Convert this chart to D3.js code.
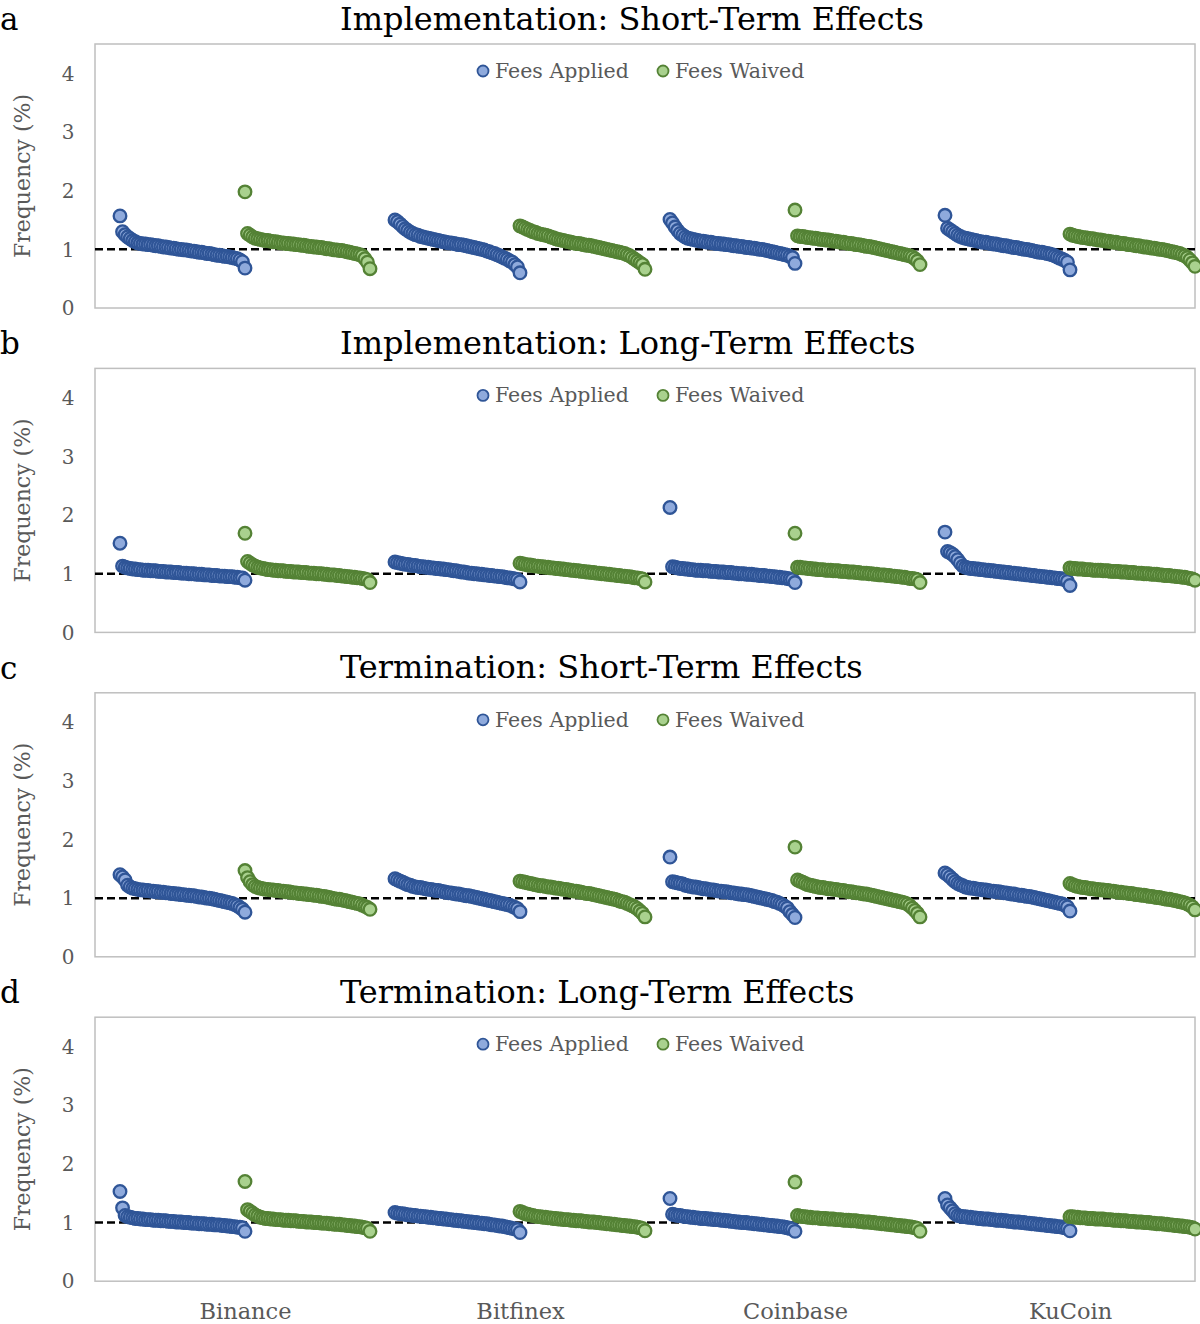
<!DOCTYPE html>
<html>
<head>
<meta charset="utf-8">
<script src="https://cdn.jsdelivr.net/npm/d3@7"></script>
<style>
  body { margin: 0; background: #fff; }
  text { font-family: "DejaVu Serif", serif; }
</style>
</head>
<body>
<svg id="chart" width="1200" height="1324"></svg>
<script>
var exchanges = ["Binance", "Bitfinex", "Coinbase", "KuCoin"];
var panelLetters = ["a", "b", "c", "d"];
var panelTitles = [
    "Implementation: Short-Term Effects",
    "Implementation: Long-Term Effects",
    "Termination: Short-Term Effects",
    "Termination: Long-Term Effects"
];
var seriesNames = ["Fees Applied", "Fees Waived"];
var yTicks = [0, 1, 2, 3, 4];

// sorted frequencies (%) per exchange: Binance, Bitfinex, Coinbase, KuCoin
var implShortApplied = [
    [1.57, 1.30, 1.25, 1.21, 1.18, 1.15, 1.13, 1.11, 1.10, 1.09, 1.09, 1.08, 1.08, 1.07, 1.06, 1.06, 1.05, 1.04, 1.04, 1.03, 1.02, 1.02, 1.01, 1.00, 1.00, 0.99, 0.99, 0.98, 0.97, 0.97, 0.96, 0.95, 0.95, 0.94, 0.93, 0.93, 0.92, 0.91, 0.90, 0.90, 0.89, 0.88, 0.88, 0.87, 0.86, 0.85, 0.84, 0.82, 0.79, 0.68],
    [1.50, 1.47, 1.43, 1.39, 1.35, 1.32, 1.29, 1.27, 1.25, 1.24, 1.22, 1.21, 1.20, 1.19, 1.18, 1.17, 1.16, 1.15, 1.14, 1.13, 1.12, 1.11, 1.11, 1.10, 1.09, 1.08, 1.08, 1.07, 1.06, 1.05, 1.04, 1.03, 1.02, 1.01, 1.00, 0.99, 0.97, 0.96, 0.94, 0.93, 0.91, 0.89, 0.87, 0.85, 0.83, 0.80, 0.78, 0.74, 0.70, 0.60],
    [1.51, 1.45, 1.38, 1.32, 1.27, 1.24, 1.21, 1.19, 1.18, 1.17, 1.16, 1.15, 1.14, 1.14, 1.13, 1.12, 1.12, 1.11, 1.10, 1.10, 1.09, 1.09, 1.08, 1.08, 1.07, 1.06, 1.06, 1.05, 1.05, 1.04, 1.03, 1.03, 1.02, 1.02, 1.01, 1.00, 1.00, 0.99, 0.98, 0.97, 0.96, 0.95, 0.94, 0.93, 0.92, 0.91, 0.90, 0.88, 0.86, 0.76],
    [1.58, 1.36, 1.33, 1.30, 1.27, 1.24, 1.22, 1.20, 1.19, 1.18, 1.17, 1.16, 1.15, 1.14, 1.13, 1.12, 1.12, 1.11, 1.10, 1.09, 1.09, 1.08, 1.07, 1.06, 1.06, 1.05, 1.04, 1.03, 1.03, 1.02, 1.01, 1.00, 1.00, 0.99, 0.98, 0.97, 0.96, 0.95, 0.95, 0.94, 0.93, 0.92, 0.91, 0.89, 0.87, 0.85, 0.83, 0.81, 0.78, 0.65]
];
var implShortWaived = [
    [1.98, 1.27, 1.24, 1.21, 1.19, 1.18, 1.17, 1.16, 1.15, 1.15, 1.14, 1.13, 1.13, 1.12, 1.11, 1.11, 1.10, 1.10, 1.09, 1.09, 1.08, 1.08, 1.07, 1.07, 1.06, 1.05, 1.05, 1.04, 1.04, 1.03, 1.03, 1.02, 1.01, 1.01, 1.00, 0.99, 0.99, 0.98, 0.98, 0.97, 0.96, 0.95, 0.94, 0.93, 0.92, 0.91, 0.89, 0.84, 0.78, 0.67],
    [1.40, 1.38, 1.36, 1.34, 1.32, 1.30, 1.29, 1.27, 1.26, 1.25, 1.24, 1.23, 1.21, 1.20, 1.18, 1.17, 1.16, 1.15, 1.14, 1.13, 1.12, 1.11, 1.10, 1.10, 1.09, 1.08, 1.07, 1.07, 1.06, 1.05, 1.04, 1.03, 1.02, 1.01, 1.00, 0.99, 0.98, 0.97, 0.96, 0.95, 0.94, 0.93, 0.91, 0.89, 0.86, 0.83, 0.80, 0.77, 0.74, 0.66],
    [1.67, 1.23, 1.22, 1.22, 1.21, 1.20, 1.20, 1.19, 1.19, 1.18, 1.17, 1.17, 1.16, 1.16, 1.15, 1.14, 1.14, 1.13, 1.12, 1.12, 1.11, 1.10, 1.10, 1.09, 1.08, 1.08, 1.07, 1.06, 1.05, 1.05, 1.04, 1.03, 1.02, 1.01, 1.00, 0.99, 0.98, 0.97, 0.96, 0.95, 0.94, 0.93, 0.92, 0.91, 0.90, 0.89, 0.87, 0.84, 0.80, 0.74],
    [1.26, 1.24, 1.23, 1.22, 1.21, 1.20, 1.20, 1.19, 1.18, 1.18, 1.17, 1.16, 1.16, 1.15, 1.14, 1.14, 1.13, 1.12, 1.12, 1.11, 1.10, 1.10, 1.09, 1.08, 1.08, 1.07, 1.06, 1.06, 1.05, 1.04, 1.04, 1.03, 1.02, 1.02, 1.01, 1.00, 1.00, 0.99, 0.98, 0.97, 0.96, 0.95, 0.94, 0.93, 0.91, 0.89, 0.86, 0.82, 0.77, 0.71]
];
var implLongApplied = [
    [1.52, 1.13, 1.11, 1.10, 1.09, 1.08, 1.08, 1.07, 1.07, 1.06, 1.06, 1.06, 1.05, 1.05, 1.05, 1.04, 1.04, 1.04, 1.03, 1.03, 1.03, 1.02, 1.02, 1.02, 1.01, 1.01, 1.01, 1.00, 1.00, 1.00, 0.99, 0.99, 0.99, 0.98, 0.98, 0.98, 0.97, 0.97, 0.97, 0.96, 0.96, 0.96, 0.95, 0.95, 0.95, 0.94, 0.94, 0.93, 0.93, 0.89],
    [1.20, 1.19, 1.18, 1.17, 1.16, 1.16, 1.15, 1.14, 1.14, 1.13, 1.12, 1.12, 1.11, 1.11, 1.10, 1.10, 1.09, 1.09, 1.08, 1.08, 1.07, 1.07, 1.06, 1.05, 1.05, 1.04, 1.03, 1.03, 1.02, 1.01, 1.01, 1.00, 1.00, 0.99, 0.99, 0.98, 0.98, 0.97, 0.97, 0.96, 0.96, 0.95, 0.95, 0.94, 0.93, 0.93, 0.92, 0.91, 0.90, 0.86],
    [2.13, 1.12, 1.11, 1.10, 1.09, 1.09, 1.08, 1.08, 1.07, 1.07, 1.06, 1.06, 1.06, 1.05, 1.05, 1.05, 1.04, 1.04, 1.04, 1.03, 1.03, 1.03, 1.02, 1.02, 1.02, 1.01, 1.01, 1.00, 1.00, 1.00, 0.99, 0.99, 0.99, 0.98, 0.98, 0.97, 0.97, 0.97, 0.96, 0.96, 0.95, 0.95, 0.94, 0.94, 0.93, 0.93, 0.92, 0.91, 0.90, 0.85],
    [1.71, 1.38, 1.36, 1.33, 1.29, 1.24, 1.18, 1.13, 1.11, 1.10, 1.09, 1.09, 1.08, 1.08, 1.07, 1.07, 1.06, 1.06, 1.05, 1.05, 1.04, 1.04, 1.03, 1.03, 1.02, 1.02, 1.01, 1.01, 1.00, 1.00, 0.99, 0.99, 0.98, 0.98, 0.97, 0.97, 0.96, 0.96, 0.95, 0.95, 0.94, 0.94, 0.93, 0.93, 0.92, 0.92, 0.91, 0.90, 0.87, 0.80]
];
var implLongWaived = [
    [1.69, 1.21, 1.18, 1.15, 1.13, 1.11, 1.10, 1.09, 1.08, 1.07, 1.07, 1.06, 1.06, 1.05, 1.05, 1.05, 1.04, 1.04, 1.04, 1.03, 1.03, 1.03, 1.02, 1.02, 1.02, 1.01, 1.01, 1.01, 1.00, 1.00, 1.00, 0.99, 0.99, 0.98, 0.98, 0.98, 0.97, 0.97, 0.96, 0.96, 0.95, 0.95, 0.94, 0.94, 0.93, 0.93, 0.92, 0.91, 0.90, 0.85],
    [1.18, 1.17, 1.16, 1.15, 1.15, 1.14, 1.13, 1.13, 1.12, 1.12, 1.11, 1.11, 1.10, 1.10, 1.09, 1.09, 1.08, 1.08, 1.07, 1.07, 1.06, 1.06, 1.05, 1.05, 1.04, 1.04, 1.03, 1.03, 1.02, 1.02, 1.01, 1.01, 1.00, 1.00, 0.99, 0.99, 0.98, 0.98, 0.97, 0.97, 0.96, 0.96, 0.95, 0.95, 0.94, 0.93, 0.93, 0.92, 0.91, 0.86],
    [1.69, 1.11, 1.11, 1.10, 1.10, 1.09, 1.09, 1.08, 1.08, 1.07, 1.07, 1.07, 1.06, 1.06, 1.06, 1.05, 1.05, 1.05, 1.04, 1.04, 1.04, 1.03, 1.03, 1.03, 1.02, 1.02, 1.01, 1.01, 1.01, 1.00, 1.00, 0.99, 0.99, 0.98, 0.98, 0.98, 0.97, 0.97, 0.96, 0.96, 0.95, 0.95, 0.94, 0.94, 0.93, 0.92, 0.92, 0.91, 0.90, 0.85],
    [1.10, 1.09, 1.09, 1.08, 1.08, 1.08, 1.07, 1.07, 1.07, 1.06, 1.06, 1.06, 1.06, 1.05, 1.05, 1.05, 1.04, 1.04, 1.04, 1.04, 1.03, 1.03, 1.03, 1.02, 1.02, 1.02, 1.01, 1.01, 1.01, 1.00, 1.00, 1.00, 0.99, 0.99, 0.99, 0.98, 0.98, 0.97, 0.97, 0.97, 0.96, 0.96, 0.95, 0.95, 0.94, 0.94, 0.93, 0.92, 0.91, 0.89]
];
var termShortApplied = [
    [1.40, 1.36, 1.31, 1.22, 1.19, 1.17, 1.16, 1.15, 1.14, 1.14, 1.13, 1.13, 1.12, 1.12, 1.11, 1.11, 1.10, 1.10, 1.09, 1.09, 1.08, 1.08, 1.07, 1.07, 1.06, 1.06, 1.05, 1.05, 1.04, 1.04, 1.03, 1.02, 1.02, 1.01, 1.00, 1.00, 0.99, 0.98, 0.97, 0.96, 0.95, 0.94, 0.93, 0.92, 0.91, 0.89, 0.87, 0.84, 0.81, 0.76],
    [1.33, 1.31, 1.29, 1.27, 1.25, 1.23, 1.22, 1.20, 1.19, 1.18, 1.18, 1.17, 1.16, 1.15, 1.15, 1.14, 1.13, 1.13, 1.12, 1.11, 1.10, 1.09, 1.09, 1.08, 1.07, 1.07, 1.06, 1.05, 1.04, 1.04, 1.03, 1.02, 1.01, 1.00, 0.99, 0.98, 0.97, 0.96, 0.95, 0.94, 0.93, 0.92, 0.91, 0.90, 0.89, 0.88, 0.86, 0.84, 0.82, 0.77],
    [1.70, 1.28, 1.27, 1.26, 1.25, 1.24, 1.22, 1.21, 1.20, 1.19, 1.19, 1.18, 1.17, 1.16, 1.16, 1.15, 1.14, 1.14, 1.13, 1.12, 1.12, 1.11, 1.11, 1.10, 1.09, 1.09, 1.08, 1.07, 1.07, 1.06, 1.06, 1.05, 1.04, 1.03, 1.02, 1.01, 1.00, 0.99, 0.98, 0.97, 0.96, 0.94, 0.93, 0.91, 0.89, 0.86, 0.83, 0.77, 0.72, 0.67],
    [1.43, 1.40, 1.36, 1.32, 1.28, 1.25, 1.23, 1.21, 1.19, 1.18, 1.17, 1.17, 1.16, 1.15, 1.15, 1.14, 1.14, 1.13, 1.12, 1.12, 1.11, 1.11, 1.10, 1.09, 1.09, 1.08, 1.07, 1.07, 1.06, 1.05, 1.05, 1.04, 1.03, 1.03, 1.02, 1.01, 1.00, 0.99, 0.98, 0.97, 0.96, 0.95, 0.94, 0.93, 0.92, 0.91, 0.90, 0.88, 0.85, 0.78]
];
var termShortWaived = [
    [1.47, 1.35, 1.28, 1.23, 1.20, 1.18, 1.17, 1.16, 1.15, 1.15, 1.14, 1.14, 1.13, 1.13, 1.12, 1.12, 1.11, 1.11, 1.10, 1.09, 1.09, 1.08, 1.08, 1.07, 1.07, 1.06, 1.06, 1.05, 1.05, 1.04, 1.03, 1.03, 1.02, 1.01, 1.00, 0.99, 0.98, 0.98, 0.97, 0.96, 0.95, 0.94, 0.93, 0.92, 0.91, 0.90, 0.88, 0.86, 0.84, 0.81],
    [1.29, 1.28, 1.27, 1.26, 1.25, 1.24, 1.23, 1.22, 1.21, 1.21, 1.20, 1.19, 1.19, 1.18, 1.17, 1.17, 1.16, 1.15, 1.15, 1.14, 1.13, 1.12, 1.12, 1.11, 1.10, 1.09, 1.08, 1.08, 1.07, 1.06, 1.05, 1.04, 1.03, 1.02, 1.01, 1.00, 0.99, 0.98, 0.97, 0.95, 0.94, 0.93, 0.91, 0.89, 0.87, 0.85, 0.82, 0.78, 0.74, 0.68],
    [1.87, 1.31, 1.29, 1.27, 1.25, 1.23, 1.22, 1.21, 1.20, 1.19, 1.18, 1.18, 1.17, 1.16, 1.16, 1.15, 1.15, 1.14, 1.13, 1.13, 1.12, 1.11, 1.11, 1.10, 1.09, 1.09, 1.08, 1.07, 1.07, 1.06, 1.05, 1.04, 1.03, 1.02, 1.01, 1.00, 0.99, 0.98, 0.97, 0.96, 0.95, 0.94, 0.93, 0.92, 0.90, 0.87, 0.83, 0.79, 0.74, 0.68],
    [1.25, 1.23, 1.21, 1.20, 1.19, 1.18, 1.18, 1.17, 1.16, 1.16, 1.15, 1.15, 1.14, 1.14, 1.13, 1.13, 1.12, 1.12, 1.11, 1.10, 1.10, 1.09, 1.09, 1.08, 1.08, 1.07, 1.06, 1.06, 1.05, 1.05, 1.04, 1.03, 1.03, 1.02, 1.01, 1.01, 1.00, 0.99, 0.98, 0.98, 0.97, 0.96, 0.95, 0.94, 0.93, 0.92, 0.90, 0.88, 0.85, 0.80]
];
var termLongApplied = [
    [1.53, 1.25, 1.12, 1.10, 1.09, 1.08, 1.07, 1.07, 1.06, 1.06, 1.05, 1.05, 1.05, 1.04, 1.04, 1.04, 1.03, 1.03, 1.03, 1.02, 1.02, 1.02, 1.01, 1.01, 1.01, 1.00, 1.00, 1.00, 0.99, 0.99, 0.99, 0.98, 0.98, 0.98, 0.97, 0.97, 0.97, 0.96, 0.96, 0.96, 0.95, 0.95, 0.94, 0.94, 0.93, 0.93, 0.92, 0.92, 0.91, 0.85],
    [1.17, 1.16, 1.15, 1.15, 1.14, 1.13, 1.13, 1.12, 1.12, 1.11, 1.11, 1.10, 1.10, 1.09, 1.09, 1.08, 1.08, 1.07, 1.07, 1.06, 1.06, 1.05, 1.05, 1.04, 1.04, 1.03, 1.03, 1.02, 1.02, 1.01, 1.01, 1.00, 1.00, 0.99, 0.99, 0.98, 0.98, 0.97, 0.96, 0.96, 0.95, 0.94, 0.94, 0.93, 0.92, 0.91, 0.90, 0.89, 0.88, 0.83],
    [1.41, 1.14, 1.13, 1.12, 1.12, 1.11, 1.10, 1.10, 1.09, 1.09, 1.08, 1.08, 1.07, 1.07, 1.07, 1.06, 1.06, 1.05, 1.05, 1.05, 1.04, 1.04, 1.03, 1.03, 1.02, 1.02, 1.01, 1.01, 1.00, 1.00, 1.00, 0.99, 0.99, 0.98, 0.98, 0.97, 0.97, 0.96, 0.96, 0.95, 0.95, 0.94, 0.94, 0.93, 0.93, 0.92, 0.91, 0.90, 0.89, 0.85],
    [1.41, 1.30, 1.25, 1.20, 1.15, 1.12, 1.11, 1.10, 1.10, 1.09, 1.09, 1.08, 1.08, 1.07, 1.07, 1.06, 1.06, 1.06, 1.05, 1.05, 1.04, 1.04, 1.04, 1.03, 1.03, 1.02, 1.02, 1.01, 1.01, 1.01, 1.00, 1.00, 0.99, 0.99, 0.98, 0.98, 0.97, 0.97, 0.96, 0.96, 0.95, 0.95, 0.94, 0.94, 0.93, 0.93, 0.92, 0.91, 0.90, 0.86]
];
var termLongWaived = [
    [1.70, 1.22, 1.19, 1.16, 1.13, 1.11, 1.09, 1.08, 1.07, 1.07, 1.06, 1.06, 1.05, 1.05, 1.05, 1.04, 1.04, 1.04, 1.03, 1.03, 1.03, 1.02, 1.02, 1.02, 1.01, 1.01, 1.01, 1.00, 1.00, 1.00, 0.99, 0.99, 0.99, 0.98, 0.98, 0.97, 0.97, 0.97, 0.96, 0.96, 0.95, 0.95, 0.94, 0.94, 0.93, 0.93, 0.92, 0.91, 0.90, 0.85],
    [1.19, 1.17, 1.15, 1.14, 1.13, 1.12, 1.11, 1.10, 1.10, 1.09, 1.09, 1.08, 1.08, 1.07, 1.07, 1.06, 1.06, 1.05, 1.05, 1.05, 1.04, 1.04, 1.03, 1.03, 1.03, 1.02, 1.02, 1.01, 1.01, 1.01, 1.00, 1.00, 0.99, 0.99, 0.98, 0.98, 0.97, 0.97, 0.96, 0.96, 0.95, 0.95, 0.94, 0.94, 0.93, 0.93, 0.92, 0.91, 0.90, 0.86],
    [1.69, 1.12, 1.11, 1.10, 1.10, 1.09, 1.09, 1.08, 1.08, 1.08, 1.07, 1.07, 1.07, 1.06, 1.06, 1.06, 1.05, 1.05, 1.05, 1.04, 1.04, 1.04, 1.03, 1.03, 1.03, 1.02, 1.02, 1.01, 1.01, 1.01, 1.00, 1.00, 0.99, 0.99, 0.98, 0.98, 0.97, 0.97, 0.96, 0.96, 0.95, 0.95, 0.94, 0.94, 0.93, 0.93, 0.92, 0.91, 0.90, 0.85],
    [1.10, 1.10, 1.09, 1.09, 1.08, 1.08, 1.08, 1.07, 1.07, 1.07, 1.06, 1.06, 1.06, 1.06, 1.05, 1.05, 1.05, 1.04, 1.04, 1.04, 1.03, 1.03, 1.03, 1.02, 1.02, 1.02, 1.01, 1.01, 1.01, 1.00, 1.00, 1.00, 0.99, 0.99, 0.98, 0.98, 0.98, 0.97, 0.97, 0.96, 0.96, 0.95, 0.95, 0.94, 0.94, 0.93, 0.93, 0.92, 0.91, 0.89]
];

var panelApplied = [implShortApplied, implLongApplied, termShortApplied, termLongApplied];
var panelWaived = [implShortWaived, implLongWaived, termShortWaived, termLongWaived];

var fills = ["#8faadc", "#a9d18e"];
var strokes = ["#2f5597", "#548235"];
var grey = "#595959";

var svg = d3.select("#chart");
var panelStep = 324.4;
var plotLeft = 95, plotRight = 1195, plotTop = 44, plotBottom = 308;

// each exchange takes 11 units: applied over [1,6], waived over [6,11]
var x = d3.scaleLinear().domain([0, 44]).range([plotLeft, plotRight]);
var y = d3.scaleLinear().domain([0, 4.5]).range([plotBottom, plotTop]);

panelTitles.forEach(function (title, k) {
    var g = svg.append("g").attr("transform", "translate(0," + (k * panelStep) + ")");

    g.append("text").attr("x", 0).attr("y", 30)
        .style("font-size", "31px").style("fill", "#000")
        .text(panelLetters[k]);

    g.append("text").attr("x", 340).attr("y", 29.5)
        .style("font-size", "32px").style("fill", "#000")
        .text(title);

    g.append("rect")
        .attr("x", plotLeft).attr("y", plotTop)
        .attr("width", plotRight - plotLeft).attr("height", plotBottom - plotTop)
        .style("fill", "none").style("stroke", "#bfbfbf").style("stroke-width", 1.5);

    g.selectAll(".ytick").data(yTicks).enter().append("text")
        .attr("class", "ytick")
        .attr("x", 68).attr("y", function (d) { return y(d); })
        .attr("dy", "0.36em")
        .attr("text-anchor", "middle")
        .style("font-size", "20px").style("fill", grey)
        .text(function (d) { return d; });

    g.append("text")
        .attr("transform", "translate(30," + ((plotTop + plotBottom) / 2) + ") rotate(-90)")
        .attr("text-anchor", "middle")
        .style("font-size", "22px").style("fill", grey)
        .text("Frequency (%)");

    // reference line at 1%
    g.append("line")
        .attr("x1", plotLeft).attr("x2", plotRight)
        .attr("y1", y(1)).attr("y2", y(1))
        .style("stroke", "#000").style("stroke-width", 2.5)
        .style("stroke-dasharray", "8,4");

    [panelApplied[k], panelWaived[k]].forEach(function (series, s) {
        series.forEach(function (vals, e) {
            var x0 = e * 11 + 1 + s * 5;
            var step = 5 / (vals.length - 1);
            g.append("g").selectAll("circle").data(vals).enter().append("circle")
                .attr("cx", function (d, i) { return x(x0 + i * step); })
                .attr("cy", function (d) { return y(d); })
                .attr("r", 6.3)
                .style("fill", fills[s])
                .style("stroke", strokes[s])
                .style("stroke-width", 2.3);
        });
    });

    // legend
    var legendX = [483, 663];
    seriesNames.forEach(function (name, s) {
        g.append("circle")
            .attr("cx", legendX[s]).attr("cy", 71).attr("r", 5.5)
            .style("fill", fills[s]).style("stroke", strokes[s]).style("stroke-width", 1.8);
        g.append("text")
            .attr("x", legendX[s] + 12).attr("y", 78)
            .style("font-size", "20.5px").style("fill", grey)
            .text(name);
    });

    if (k === panelTitles.length - 1) {
        var xAxis = d3.axisBottom(x)
            .tickValues(exchanges.map(function (d, i) { return i * 11 + 6; }))
            .tickFormat(function (d, i) { return exchanges[i]; })
            .tickSize(0);
        var ax = g.append("g").attr("transform", "translate(0," + plotBottom + ")").call(xAxis);
        ax.select(".domain").remove();
        ax.selectAll("text")
            .attr("y", 38).attr("dy", "0")
            .style("font-family", "DejaVu Serif, serif")
            .style("font-size", "22.5px").style("fill", grey);
    }
});
</script>
</body>
</html>
